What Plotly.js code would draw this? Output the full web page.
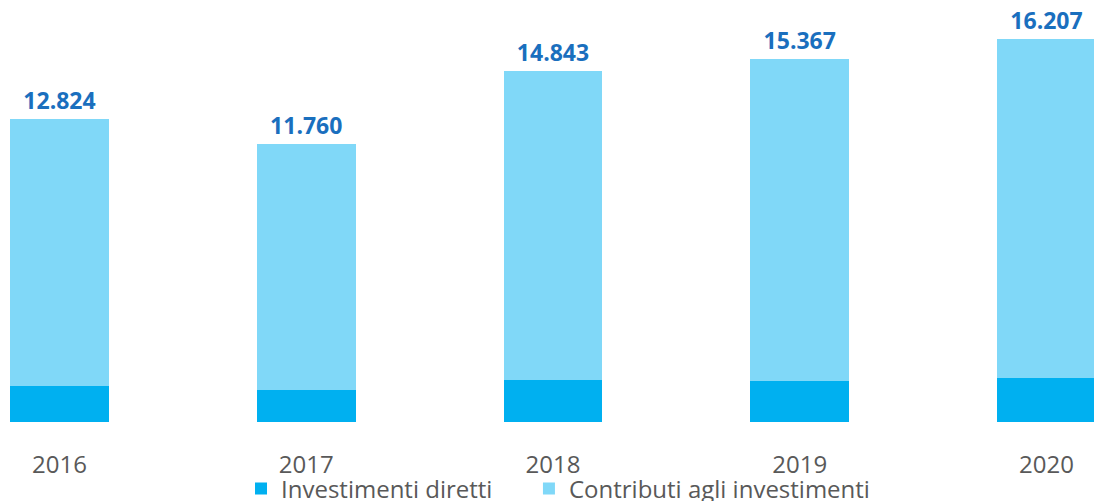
<!DOCTYPE html>
<html>
<head>
<meta charset="utf-8">
<script src="https://cdn.plot.ly/plotly-3.0.1.min.js"></script>
<style>html,body{margin:0;padding:0;background:#fff;}#chart{width:1094px;height:501px;}</style>
</head>
<body>
<div id="chart"></div>
<script>
const years = ['2016', '2017', '2018', '2019', '2020'];
const totals = [12824, 11760, 14843, 15367, 16207];
const diretti = [1523, 1340, 1790, 1735, 1860];
const contributi = totals.map((t, i) => t - diretti[i]);
const totalLabels = ['12.824', '11.760', '14.843', '15.367', '16.207'];

const traces = [
  {
    type: 'bar', name: 'Investimenti diretti', x: years, y: diretti,
    marker: {color: '#00B0F0'}, width: 0.4, hoverinfo: 'skip', legend: 'legend'
  },
  {
    type: 'bar', name: 'Contributi agli investimenti', x: years, y: contributi,
    marker: {color: '#80D8F8'}, width: 0.4,
    text: totalLabels, textposition: 'outside', cliponaxis: false,
    textfont: {family: 'Open Sans, sans-serif', size: 23, color: '#1A6FBE', weight: 'bold'},
    hoverinfo: 'skip', legend: 'legend2'
  }
];

const legendFont = {family: 'Open Sans, sans-serif', size: 24, color: '#595959'};
const layout = {
  width: 1094, height: 501,
  margin: {l: 0, r: 0, t: 0, b: 79, autoexpand: false},
  paper_bgcolor: '#ffffff', plot_bgcolor: '#ffffff',
  barmode: 'stack',
  showlegend: true,
  legend: {
    orientation: 'h', x: 0.2203, xanchor: 'left', yref: 'container', y: 0.024, yanchor: 'middle',
    font: legendFont, itemwidth: 30, bgcolor: 'rgba(0,0,0,0)'
  },
  legend2: {
    orientation: 'h', x: 0.4835, xanchor: 'left', yref: 'container', y: 0.024, yanchor: 'middle',
    font: legendFont, itemwidth: 30, bgcolor: 'rgba(0,0,0,0)'
  },
  xaxis: {
    type: 'category', range: [-0.2411, 4.1926], showline: false, showgrid: false,
    zeroline: false, ticks: '', ticklabelstandoff: 26,
    tickfont: {family: 'Open Sans, sans-serif', size: 24, color: '#595959'}
  },
  yaxis: {range: [0, 17858], visible: false, showgrid: false, zeroline: false}
};

Plotly.newPlot('chart', traces, layout, {displayModeBar: false, staticPlot: true});
</script>
</body>
</html>
